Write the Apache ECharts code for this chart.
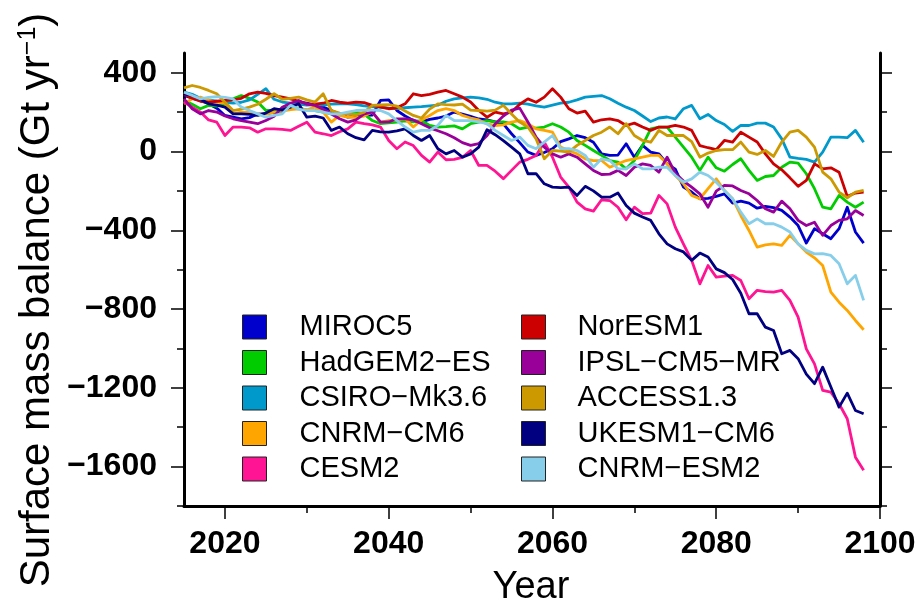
<!DOCTYPE html>
<html><head><meta charset="utf-8">
<script src="https://cdn.jsdelivr.net/npm/echarts@6/dist/echarts.min.js"></script>
<style>html,body{margin:0;padding:0;background:#fff}#c{width:921px;height:609px}</style>
</head><body><div id="c"></div>
<script>
const years = [2015,2016,2017,2018,2019,2020,2021,2022,2023,2024,
2025,2026,2027,2028,2029,2030,2031,2032,2033,2034,
2035,2036,2037,2038,2039,2040,2041,2042,2043,2044,
2045,2046,2047,2048,2049,2050,2051,2052,2053,2054,
2055,2056,2057,2058,2059,2060,2061,2062,2063,2064,
2065,2066,2067,2068,2069,2070,2071,2072,2073,2074,
2075,2076,2077,2078,2079,2080,2081,2082,2083,2084,
2085,2086,2087,2088,2089,2090,2091,2092,2093,2094,
2095,2096,2097,2098];

const miroc5 = [285,270,259,242,220,183,175,166,172,190,
192,198,205,225,250,245,234,225,208,190,
174,180,183,185,259,262,208,180,157,150,
163,170,180,200,190,178,165,160,150,140,
90,45,-3,-20,-5,14,50,64,81,70,
47,-12,-20,-18,39,-29,31,-3,-12,-63,
-90,-181,-206,-240,-238,-228,-215,-262,-252,-262,
-288,-279,-285,-299,-333,-376,-465,-392,-418,-443,
-392,-283,-409,-465];

const hadgem2es = [259,240,217,234,230,240,267,284,270,251,
208,208,215,225,220,210,208,200,191,191,
195,200,190,157,141,145,149,155,150,157,
132,124,126,130,115,141,149,157,150,150,
141,115,124,118,124,141,124,98,56,31,
5,-20,-46,-54,-88,-46,31,115,124,124,
73,22,-29,-96,-29,-83,-100,-66,-37,-96,
-147,-127,-122,-80,-54,-59,-113,-189,-283,-291,
-223,-257,-283,-257];

const csiro = [302,290,270,262,255,250,245,250,262,290,
319,265,251,245,240,235,238,235,240,242,
242,238,232,228,225,220,218,222,225,228,
232,235,255,267,272,276,272,265,250,242,
242,245,240,232,225,235,245,250,262,276,
280,284,268,245,225,208,180,152,170,175,
165,217,234,166,188,157,137,102,132,132,
144,144,124,64,-29,-35,-40,-54,-3,73,
73,70,107,47];

const cnrmcm6 = [242,267,276,260,251,245,191,200,198,191,
190,200,205,212,217,212,225,200,149,183,
174,172,180,200,149,157,160,166,124,160,
183,208,217,208,183,170,160,140,132,135,
149,157,141,115,107,98,22,5,-12,-37,
-46,-46,-80,-63,-46,-37,-29,-20,-20,-63,
-122,-164,-223,-240,-189,-139,-198,-240,-325,-401,
-486,-474,-469,-477,-426,-469,-511,-540,-579,-714,
-765,-807,-858,-905];

const cesm2 = [251,225,200,160,149,81,124,124,120,98,
115,115,112,107,128,149,98,90,81,100,
115,149,141,135,124,56,14,48,30,-20,
-54,-3,-42,-40,-30,5,-71,-71,-100,-138,
-96,-54,-40,-20,47,-29,-130,-181,-257,-291,
-303,-245,-249,-283,-347,-283,-316,-313,-223,-266,
-384,-470,-553,-672,-579,-638,-633,-629,-655,-748,
-705,-712,-714,-705,-756,-841,-1002,-1078,-1213,-1222,
-1281,-1357,-1552,-1619];

const noresm1 = [290,270,255,250,255,259,262,270,293,301,
295,284,276,267,255,242,240,245,259,250,
245,251,248,234,225,217,222,242,293,284,
290,301,310,293,276,251,208,174,200,191,
200,240,267,250,276,318,276,217,195,205,
149,161,166,157,132,144,124,107,124,124,
132,124,107,30,19,9,56,48,98,73,
48,-12,-63,-93,-134,-177,-147,-63,-88,-83,
-105,-228,-211,-206];

const ipsl = [267,217,191,208,200,180,166,157,149,141,
157,179,225,245,259,240,234,215,190,166,
149,160,191,200,149,150,166,166,160,141,
120,105,90,70,45,31,40,80,140,180,
210,220,150,73,22,-12,-29,-12,-29,-63,
-96,-117,-115,-96,-122,-80,-63,-71,-105,-29,
-110,-150,-181,-215,-283,-201,-172,-175,-198,-215,
-249,-291,-308,-252,-291,-350,-376,-359,-426,-376,
-350,-342,-300,-325];

const access13 = [323,335,325,310,293,250,208,215,225,240,
265,293,265,270,276,262,251,293,208,195,
191,185,200,234,236,238,230,205,183,170,
215,242,238,236,240,210,208,205,210,234,
190,149,124,64,-37,5,2,-3,31,56,
81,98,124,90,141,81,56,47,107,81,
81,81,50,-29,-8,5,9,9,48,-3,
-15,5,-25,48,98,107,73,22,-105,-139,
-206,-235,-206,-198];

const ukesm1 = [293,285,265,242,235,225,191,191,188,183,
195,217,210,225,242,174,180,170,107,124,
90,70,59,107,100,98,105,115,81,56,
81,14,-12,5,-29,-12,22,110,85,55,
22,-12,-113,-113,-164,-181,-184,-181,-223,-177,
-200,-232,-232,-211,-274,-313,-333,-350,-418,-469,
-494,-510,-553,-516,-536,-596,-615,-650,-720,-824,
-824,-892,-909,-1027,-1010,-1052,-1130,-1179,-1095,-1196,
-1298,-1227,-1315,-1332];

const cnrmesm2 = [301,285,267,275,279,275,267,225,208,191,
174,183,191,234,215,208,208,200,191,191,
200,208,210,210,208,191,157,124,98,107,
107,132,183,157,157,157,150,141,107,81,
56,73,31,14,47,81,14,14,5,-20,
-80,-37,-46,-88,-88,-63,-88,-88,-80,-80,
-122,-156,-139,-105,-122,-156,-198,-240,-308,-367,
-342,-367,-367,-384,-409,-469,-502,-520,-519,-528,
-570,-672,-629,-756];

const modelNames = ['MIROC5','HadGEM2-ES','CSIRO-Mk3.6','CNRM-CM6','CESM2',
  'NorESM1','IPSL-CM5-MR','ACCESS1.3','UKESM1-CM6','CNRM-ESM2'];
const modelValues = [miroc5, hadgem2es, csiro, cnrmcm6, cesm2, noresm1, ipsl, access13, ukesm1, cnrmesm2];
const modelColors = ['#0000cc','#00cc00','#0099cc','#ffa500','#ff1493',
  '#cc0000','#990099','#cc9900','#000080','#87ceeb'];

const xMajor = [2020,2040,2060,2080,2100];
const xMinor = [2030,2050,2070,2090];
const yMajor = [400,0,-400,-800,-1200,-1600];
const yMinor = [200,-200,-600,-1000,-1400,-1800];

const FONT = 'Liberation Sans, Arial, Helvetica, sans-serif';
const minus = s => String(s).replace(/-/g, '\u2212');
const plain = v => String(v);

const series = modelNames.map((name, k) => ({
  name: name,
  type: 'line',
  symbol: 'none',
  showSymbol: false,
  xAxisIndex: 0,
  yAxisIndex: 0,
  lineStyle: { width: 2.8, color: modelColors[k], join: 'round' },
  itemStyle: { color: modelColors[k] },
  data: years.map((y, i) => [y, modelValues[k][i]])
}));

const tickStyle = { color: '#000', width: 1.5 };
const lineStyle3 = { color: '#000', width: 3 };

function legendCol(names, left, pad) {
  return {
    data: names,
    orient: 'vertical',
    left: left, top: 307,
    itemWidth: 24, itemHeight: 24, itemGap: 5.5,
    icon: 'rect',
    selectedMode: false,
    itemStyle: { borderColor: '#222', borderWidth: 1 },
    textStyle: { fontFamily: FONT, fontSize: 29, color: '#000', lineHeight: 30, padding: [0, 0, 0, pad] },
    formatter: minus
  };
}

const option = {
  animation: false,
  backgroundColor: '#fff',
  grid: { left: 184, right: 41, top: 53, bottom: 103, containLabel: false },
  xAxis: [
    { type: 'value', min: 2015, max: 2100, position: 'bottom',
      axisLine: { show: true, onZero: false, lineStyle: lineStyle3 },
      axisTick: { show: true, length: 13, lineStyle: tickStyle, customValues: xMajor },
      axisLabel: { show: true, customValues: xMajor, fontSize: 32, fontWeight: 'bold', fontFamily: FONT, color: '#000', margin: 22, formatter: plain },
      splitLine: { show: false } },
    { type: 'value', min: 2015, max: 2100, position: 'bottom',
      axisLine: { show: false, onZero: false },
      axisTick: { show: true, length: 7, lineStyle: tickStyle, customValues: xMinor },
      axisLabel: { show: false },
      splitLine: { show: false } }
  ],
  yAxis: [
    { type: 'value', min: -1800, max: 500, position: 'left',
      axisLine: { show: true, onZero: false, lineStyle: lineStyle3 },
      axisTick: { show: true, length: 13, lineStyle: tickStyle, customValues: yMajor },
      axisLabel: { show: true, customValues: yMajor, fontSize: 32, fontWeight: 'bold', fontFamily: FONT, color: '#000', margin: 27, formatter: minus },
      splitLine: { show: false } },
    { type: 'value', min: -1800, max: 500, position: 'left',
      axisLine: { show: false, onZero: false },
      axisTick: { show: true, length: 7, lineStyle: tickStyle, customValues: yMinor },
      axisLabel: { show: false }, splitLine: { show: false } },
    { type: 'value', min: -1800, max: 500, position: 'right',
      axisLine: { show: true, onZero: false, lineStyle: lineStyle3 },
      axisTick: { show: true, length: 12, lineStyle: tickStyle, customValues: yMajor },
      axisLabel: { show: false }, splitLine: { show: false } },
    { type: 'value', min: -1800, max: 500, position: 'right',
      axisLine: { show: false, onZero: false },
      axisTick: { show: true, length: 7, lineStyle: tickStyle, customValues: yMinor },
      axisLabel: { show: false }, splitLine: { show: false } }
  ],
  legend: [
    legendCol(modelNames.slice(0, 5), 237, 28),
    legendCol(modelNames.slice(5), 516, 27)
  ],
  graphic: [
    { type: 'text', x: 37, y: 300, rotation: Math.PI / 2,
      style: { text: '{a|Surface mass balance (Gt yr}{b|\u22121}{a|)}',
        rich: { a: { fontSize: 42, fontFamily: FONT, fill: '#000' },
                b: { fontSize: 25, fontFamily: FONT, fill: '#000', verticalAlign: 'top' } },
        align: 'center', verticalAlign: 'middle', textAlign: 'center', textVerticalAlign: 'middle' } },
    { type: 'text', x: 531, y: 588,
      style: { text: 'Year', fontSize: 38, fontFamily: FONT, fill: '#000',
        align: 'center', verticalAlign: 'middle', textAlign: 'center', textVerticalAlign: 'middle' } }
  ],
  series: series
};

const chart = echarts.init(document.getElementById('c'), null, { renderer: 'canvas' });
chart.setOption(option);
</script>
</body></html>
